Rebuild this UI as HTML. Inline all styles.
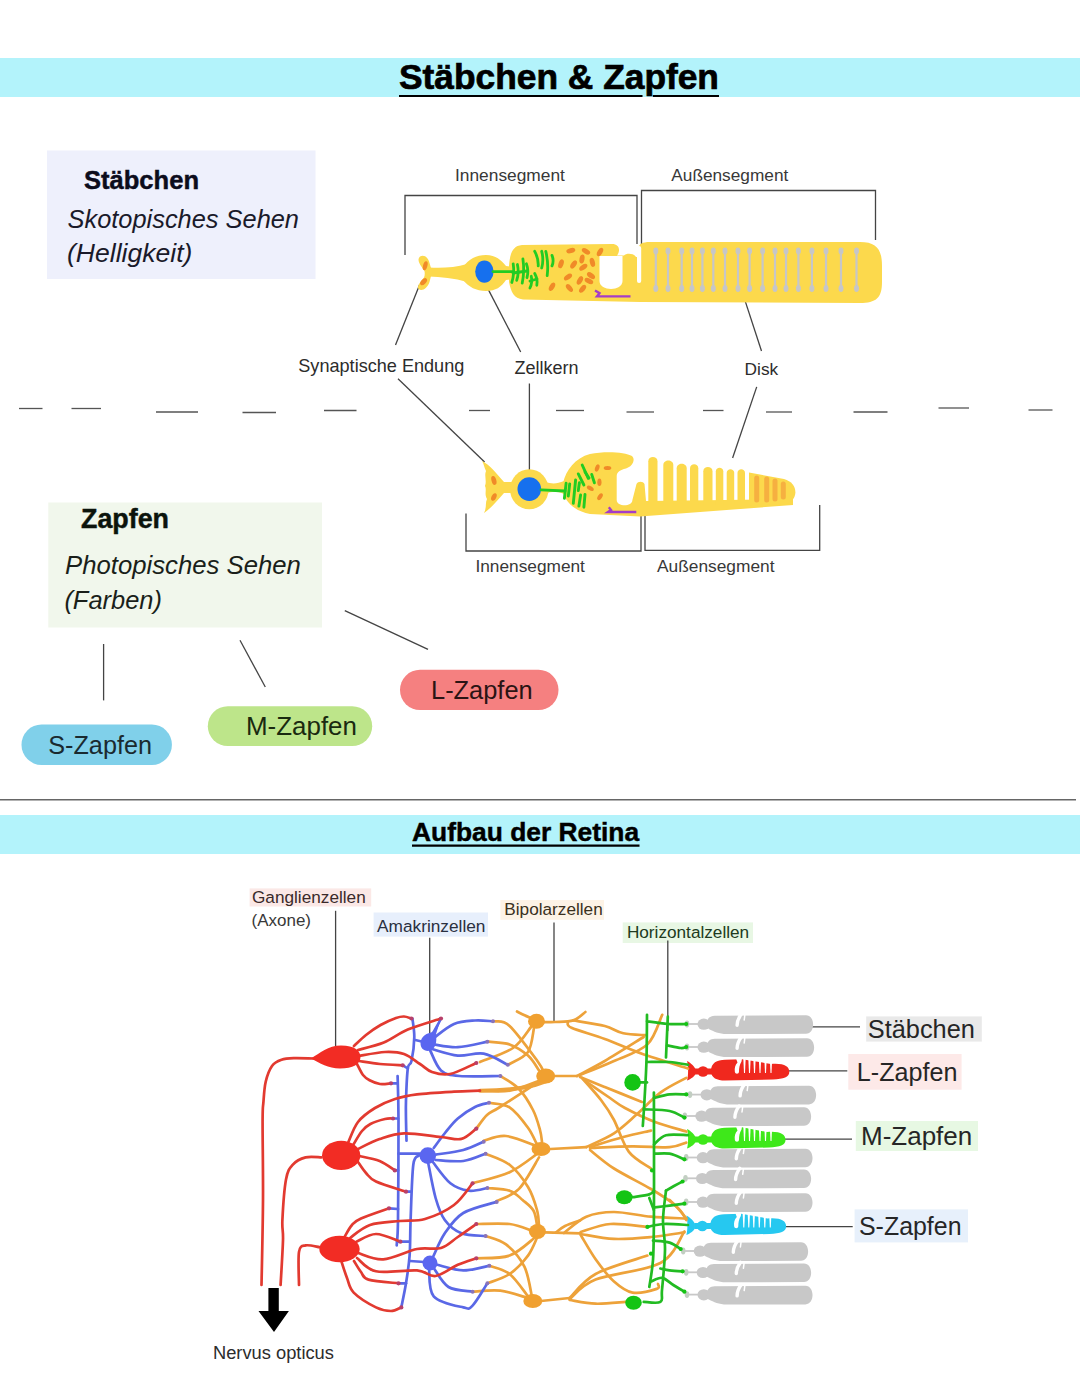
<!DOCTYPE html><html><head><meta charset="utf-8"><style>html,body{margin:0;padding:0;background:#fff;width:1080px;height:1394px;overflow:hidden}svg{position:absolute;left:0;top:0;display:block}text{font-family:"Liberation Sans",sans-serif}</style></head><body>
<svg width="1080" height="1394" viewBox="0 0 1080 1394">
<rect x="0" y="58" width="1080" height="39" rx="0" fill="#b3f3fb"/>
<rect x="47" y="150.5" width="268.5" height="128.5" rx="0" fill="#eef0fc"/>
<rect x="48.3" y="502.5" width="273.7" height="125" rx="0" fill="#f1f7ec"/>
<rect x="21.5" y="724.6" width="150.4" height="40.3" rx="20" fill="#80d0ea"/>
<rect x="207.8" y="706.3" width="164.4" height="39.7" rx="20" fill="#bde58a"/>
<rect x="400" y="669.8" width="158.5" height="40.2" rx="20" fill="#f58080"/>
<rect x="0" y="815" width="1080" height="39" rx="0" fill="#b3f3fb"/>
<rect x="249.6" y="888.4" width="121.6" height="18.1" rx="0" fill="#fbe8e6"/>
<rect x="373.6" y="912.5" width="114.4" height="24.1" rx="0" fill="#e7effc"/>
<rect x="500.4" y="900" width="103.6" height="19.8" rx="0" fill="#fdf3e6"/>
<rect x="622.7" y="922.4" width="130.3" height="20.6" rx="0" fill="#e8f7e4"/>
<rect x="866.2" y="1016.4" width="115.6" height="25.2" rx="0" fill="#e9e9e9"/>
<rect x="848.3" y="1054" width="113.3" height="35.7" rx="0" fill="#fde9e8"/>
<rect x="855.8" y="1121" width="122.2" height="30" rx="0" fill="#e7f8e3"/>
<rect x="854.6" y="1209.4" width="113.4" height="33" rx="0" fill="#e7f0fb"/>
<g fill="none" stroke="#444" stroke-width="1.3">
<path d="M405,255 V195.5 H637 V244"/>
<path d="M641.5,250 V190.5 H875.5 V240"/>
<path d="M395.5,345 L419.6,284.8"/>
<path d="M398,378.7 L484.6,462"/>
<path d="M520.7,352 L484.6,282.4"/>
<path d="M529.4,383.5 V480"/>
<path d="M761.5,351 L743,294.4"/>
<path d="M756.7,386.9 L732.6,458"/>
<path d="M466,513.6 V551 H641 V507"/>
<path d="M645,505 V550.3 H819.7 V505"/>
<path d="M103.6,644 V700.4"/>
<path d="M240,640.3 L265.3,687"/>
<path d="M344.8,610.7 L428,649.4"/>
<path d="M335.6,910.8 V1048"/>
<path d="M429.7,937.8 V1040"/>
<path d="M554,922.4 V1022"/>
<path d="M667.8,940.6 V1031"/>
<path d="M811,1026.8 H860"/>
<path d="M786,1070.8 H847.3"/>
<path d="M784.4,1139.2 H852"/>
<path d="M785.3,1226.7 H852.7"/>
</g>
<g stroke="#555" stroke-width="1.3">
<path d="M19,408.5 H42.5"/>
<path d="M71.5,408.5 H101"/>
<path d="M156,412 H198"/>
<path d="M242.5,412.5 H276"/>
<path d="M324,410.5 H356.5"/>
<path d="M469,410.5 H490"/>
<path d="M556,410.5 H584"/>
<path d="M626.5,412 H654"/>
<path d="M703,410.5 H723.5"/>
<path d="M766,412 H792"/>
<path d="M853.5,412 H887.5"/>
<path d="M938.5,408 H969"/>
<path d="M1028.5,410 H1052.5"/>
<path d="M0,799.7 H1076" stroke="#666" stroke-width="1.6"/>
</g>
<path d="M399,96 H642.5 M652.8,96 H719" stroke="#000" stroke-width="2.2"/>
<path d="M412,845.6 H639.5" stroke="#000" stroke-width="2.4"/>
<g fill="#fcd94c">
<path d="M420,256.5 C424.5,254 428.5,258 429.5,263 L431,268 L431,276 L429.5,282 C427.5,288 422,292 418.5,289 C416.5,286 421,281 424,277.5 C425,275.5 425,271.5 424,270 C421,266 416,260 420,256.5 Z"/>
<path d="M429,267.5 C440,268 455,268 467,264 L467,282 C455,278 440,277 429,276.5 Z"/>
<path d="M463,267 C469,259 476,255 486,255 C496,255 501,260 506,266 L513,267 L513,279 L506,280 C501,287 496,291 486,291 C476,291 469,287 463,280 Z"/>
<path d="M509,266 C510,254 512,246 522,245 L612,244 C619,244 621,250 617,255.5 L624,255.5 C626,253 634,253 636,257 L638,257 L638.5,248 C639,244 642,242 650,242 L860,242 C877,242 882,250 882,266 L882,282 C882,298 876,303 860,303 L640,302 L523,299.5 C514,298.5 511,292 509,282 Z"/>
</g>
<path d="M599.5,256 L599.5,281 C599.5,291.5 622.5,291.5 622.5,281 L622.5,256 Z" fill="#fff"/>
<rect x="637" y="246" width="4.2" height="37" rx="2" fill="#fff"/>
<g stroke="#c6c6c8" stroke-width="2.2" fill="#c6c6c8">
<path d="M655.8,250.5 V289"/><ellipse cx="655.8" cy="251" rx="2.5" ry="3.4" stroke="none"/><ellipse cx="655.8" cy="288.5" rx="2.5" ry="3.4" stroke="none"/>
<path d="M668,250.5 V289"/><ellipse cx="668" cy="251" rx="2.5" ry="3.4" stroke="none"/><ellipse cx="668" cy="288.5" rx="2.5" ry="3.4" stroke="none"/>
<path d="M681.7,250.5 V289"/><ellipse cx="681.7" cy="251" rx="2.5" ry="3.4" stroke="none"/><ellipse cx="681.7" cy="288.5" rx="2.5" ry="3.4" stroke="none"/>
<path d="M692,250.5 V289"/><ellipse cx="692" cy="251" rx="2.5" ry="3.4" stroke="none"/><ellipse cx="692" cy="288.5" rx="2.5" ry="3.4" stroke="none"/>
<path d="M702.4,250.5 V289"/><ellipse cx="702.4" cy="251" rx="2.5" ry="3.4" stroke="none"/><ellipse cx="702.4" cy="288.5" rx="2.5" ry="3.4" stroke="none"/>
<path d="M713.3,250.5 V289"/><ellipse cx="713.3" cy="251" rx="2.5" ry="3.4" stroke="none"/><ellipse cx="713.3" cy="288.5" rx="2.5" ry="3.4" stroke="none"/>
<path d="M725,250.5 V289"/><ellipse cx="725" cy="251" rx="2.5" ry="3.4" stroke="none"/><ellipse cx="725" cy="288.5" rx="2.5" ry="3.4" stroke="none"/>
<path d="M738,250.5 V289"/><ellipse cx="738" cy="251" rx="2.5" ry="3.4" stroke="none"/><ellipse cx="738" cy="288.5" rx="2.5" ry="3.4" stroke="none"/>
<path d="M749.6,250.5 V289"/><ellipse cx="749.6" cy="251" rx="2.5" ry="3.4" stroke="none"/><ellipse cx="749.6" cy="288.5" rx="2.5" ry="3.4" stroke="none"/>
<path d="M762.6,250.5 V289"/><ellipse cx="762.6" cy="251" rx="2.5" ry="3.4" stroke="none"/><ellipse cx="762.6" cy="288.5" rx="2.5" ry="3.4" stroke="none"/>
<path d="M775,250.5 V289"/><ellipse cx="775" cy="251" rx="2.5" ry="3.4" stroke="none"/><ellipse cx="775" cy="288.5" rx="2.5" ry="3.4" stroke="none"/>
<path d="M786,250.5 V289"/><ellipse cx="786" cy="251" rx="2.5" ry="3.4" stroke="none"/><ellipse cx="786" cy="288.5" rx="2.5" ry="3.4" stroke="none"/>
<path d="M798.4,250.5 V289"/><ellipse cx="798.4" cy="251" rx="2.5" ry="3.4" stroke="none"/><ellipse cx="798.4" cy="288.5" rx="2.5" ry="3.4" stroke="none"/>
<path d="M811.9,250.5 V289"/><ellipse cx="811.9" cy="251" rx="2.5" ry="3.4" stroke="none"/><ellipse cx="811.9" cy="288.5" rx="2.5" ry="3.4" stroke="none"/>
<path d="M826,250.5 V289"/><ellipse cx="826" cy="251" rx="2.5" ry="3.4" stroke="none"/><ellipse cx="826" cy="288.5" rx="2.5" ry="3.4" stroke="none"/>
<path d="M841,250.5 V289"/><ellipse cx="841" cy="251" rx="2.5" ry="3.4" stroke="none"/><ellipse cx="841" cy="288.5" rx="2.5" ry="3.4" stroke="none"/>
<path d="M856.5,250.5 V289"/><ellipse cx="856.5" cy="251" rx="2.5" ry="3.4" stroke="none"/><ellipse cx="856.5" cy="288.5" rx="2.5" ry="3.4" stroke="none"/>
</g>
<g fill="#f08a28">
<ellipse cx="425.2" cy="265.8" rx="2.2" ry="4.6" transform="rotate(15 425.2 265.8)"/>
<ellipse cx="423.6" cy="281.7" rx="2.4" ry="4.2" transform="rotate(45 423.6 281.7)"/>
<ellipse cx="570.8" cy="250.6" rx="4.6" ry="2.5" transform="rotate(-15 570.8 250.6)"/>
<ellipse cx="586" cy="251.3" rx="4.6" ry="2.5" transform="rotate(30 586 251.3)"/>
<ellipse cx="600" cy="252" rx="4.6" ry="2.5" transform="rotate(-60 600 252)"/>
<ellipse cx="561" cy="263.8" rx="4.6" ry="2.5" transform="rotate(-70 561 263.8)"/>
<ellipse cx="573.6" cy="264.5" rx="4.6" ry="2.5" transform="rotate(-55 573.6 264.5)"/>
<ellipse cx="582" cy="259" rx="4.6" ry="2.5" transform="rotate(-80 582 259)"/>
<ellipse cx="592.4" cy="262.4" rx="4.6" ry="2.5" transform="rotate(75 592.4 262.4)"/>
<ellipse cx="583.3" cy="267.25" rx="4.6" ry="2.5" transform="rotate(-35 583.3 267.25)"/>
<ellipse cx="568" cy="277" rx="4.6" ry="2.5" transform="rotate(-35 568 277)"/>
<ellipse cx="579.9" cy="280.4" rx="4.6" ry="2.5" transform="rotate(-60 579.9 280.4)"/>
<ellipse cx="591" cy="275.6" rx="4.6" ry="2.5" transform="rotate(35 591 275.6)"/>
<ellipse cx="588.9" cy="281" rx="4.6" ry="2.5" transform="rotate(25 588.9 281)"/>
<ellipse cx="552" cy="286.7" rx="4.6" ry="2.5" transform="rotate(-60 552 286.7)"/>
<ellipse cx="569.4" cy="288" rx="4.6" ry="2.5" transform="rotate(50 569.4 288)"/>
<ellipse cx="582.6" cy="288.8" rx="4.6" ry="2.5" transform="rotate(-50 582.6 288.8)"/>
</g>
<ellipse cx="484.4" cy="271.6" rx="9.2" ry="11.2" fill="#1670ee"/>
<g stroke="#22cc22" stroke-width="2.8" stroke-linecap="round" fill="none">
<path d="M493,271.6 H513"/>
<path d="M513.2,263.8 Q514.7,273.15 511.8,282.5"/>
<path d="M517.4,264.5 Q519.25,272.45 516.7,280.4"/>
<path d="M522.9,258.9 Q524.75,271.04999999999995 522.2,283.2"/>
<path d="M526.4,263.8 Q528.9000000000001,270.75 527,277.7"/>
<path d="M531.25,276.3 Q532.7750000000001,282.15 529.9,288"/>
<path d="M534.7,273.5 Q537.95,279.4 536.8,285.3"/>
<path d="M534.7,251.3 Q538.6500000000001,258.6 538.2,265.9"/>
<path d="M541.7,251.3 Q543.9000000000001,259.65 541.7,268"/>
<path d="M545.8,251.3 Q548.7,263.45000000000005 547.2,275.6"/>
<path d="M552,255.4 Q554.2,260.65 552,265.9"/>
<path d="M513,273 L527,271"/><path d="M530,281 L537,279"/>
</g>
<path d="M595,290.5 L599.5,293.2 L597,296.4 H630.5" stroke="#a43cc8" stroke-width="2.4" fill="none"/>
<g fill="#fcd94c">
<path d="M482,461 C490,465 497,474 504,482 L512,482 L512,493 L504,493 C497,501 490,509 484,513 C487,507 485,503 487,499 C484,494 487,490 485,486 C487,480 484,476 486,471 C484,467 484,464 482,461 Z"/>
<ellipse cx="529.3" cy="489.3" rx="19.3" ry="20"/>
<path d="M545,482 C552,484 557,484 564,481 L564,494 C557,491 552,491 545,494 Z"/>
<path d="M563,483 C566,470 575,458 590,454 C605,451 625,452 632,456 C636,460 632,467 626,468.5 C620,470 617,472 616.7,476 L616.7,500 C616.7,507 632.4,507 632.4,500 L636.5,484 C638,481 643,481 644.5,484 L646,501 L793,499 L793,505 L640,516.6 L590,514 C575,511 566,503 563,492 Z"/>
<path d="M648.3,505 L648.3,461.3 C648.3,455.7 657.5,455.7 657.5,461.3 L657.5,505 Z"/>
<path d="M663.3,505 L663.3,465.0 C663.3,459 673.3,459 673.3,465.0 L673.3,505 Z"/>
<path d="M676.7,505 L676.7,468.3 C676.7,462.3 686.7,462.3 686.7,468.3 L686.7,505 Z"/>
<path d="M690,505 L690,468.15 C690,463 698.3,463 698.3,468.15 L698.3,505 Z"/>
<path d="M703.3,505 L703.3,471.3 C703.3,465.7 712.5,465.7 712.5,471.3 L712.5,505 Z"/>
<path d="M715.8,505 L715.8,471.25 C715.8,466.5 723.3,466.5 723.3,471.25 L723.3,505 Z"/>
<path d="M726.7,505 L726.7,472.75 C726.7,468 734.2,468 734.2,472.75 L734.2,505 Z"/>
<path d="M737.5,505 L737.5,472.75 C737.5,468 745,468 745,472.75 L745,505 Z"/>
<path d="M749,472.5 L784,479 C799,483 799,501 785,504 L749,506 Z"/>
</g>
<g stroke="#f6b040" stroke-width="5" stroke-linecap="round">
<path d="M756.7,478 V500"/>
<path d="M766.7,479 V500"/>
<path d="M775,481 V499"/>
<path d="M783.3,484 V497"/>
</g>
<g fill="#f08a28">
<ellipse cx="493.9" cy="480.4" rx="2.4" ry="4.6" transform="rotate(-15 493.9 480.4)"/>
<ellipse cx="493.9" cy="497" rx="2.4" ry="4" transform="rotate(25 493.9 497)"/>
<ellipse cx="597.2" cy="468" rx="3.8" ry="2.1" transform="rotate(-70 597.2 468)"/>
<ellipse cx="607.5" cy="468" rx="3.8" ry="2.1" transform="rotate(0 607.5 468)"/>
<ellipse cx="599.4" cy="482.2" rx="3.8" ry="2.1" transform="rotate(90 599.4 482.2)"/>
<ellipse cx="590.3" cy="488.3" rx="3.8" ry="2.1" transform="rotate(30 590.3 488.3)"/>
<ellipse cx="600" cy="496.7" rx="3.8" ry="2.1" transform="rotate(-55 600 496.7)"/>
</g>
<circle cx="529.3" cy="489.1" r="11.8" fill="#1670ee"/>
<g stroke="#22cc22" stroke-width="2.9" stroke-linecap="round" fill="none">
<path d="M541,489.9 L565,491"/>
<path d="M566.1,483.3 L564.4,498.3"/>
<path d="M569.7,483.9 L568.3,496.1"/>
<path d="M575.6,480 L573.3,503.3"/>
<path d="M579.4,482.8 L578.3,490.6"/>
<path d="M578.3,473.9 L583.9,485"/>
<path d="M582.2,465 L588.3,478.3"/>
<path d="M591.7,474.4 L594.4,482.8"/>
<path d="M580.6,495 L578.9,506.1"/>
<path d="M585,494.4 L583.9,507.2"/>
<path d="M585,472 L589,478"/>
</g>
<path d="M608.8,507.2 L611,510 L608,512 H636.3" stroke="#a43cc8" stroke-width="2.4" fill="none"/>
<g transform="translate(684.8,1025)"><path d="M3,-1.9 H15 V-0.1 H3 Z" fill="#c8c8c8"/><ellipse cx="2.2" cy="-1" rx="2.3" ry="3.4" fill="#c2cec2"/><ellipse cx="19" cy="-0.8" rx="6.3" ry="5.6" fill="#c8c8c8"/><path d="M22,-3 C23,-7 25,-9 30,-9.3 L121.20000000000005,-9.8 C130.70000000000005,-9.8 130.70000000000005,8.8 121.20000000000005,8.8 L42,9 C34,9 29,6.5 24,4 C22,3 21.5,0 22,-3 Z" fill="#c8c8c8"/><path d="M56.5,-11 C54,-7.5 52.3,-4 52.3,0.3" stroke="#fff" stroke-width="3.4" stroke-linecap="round" fill="none"/><path d="M60,-9.5 L59.4,-5" stroke="#fff" stroke-width="1.5" stroke-linecap="round" fill="none"/></g>
<g transform="translate(684.8,1048)"><path d="M3,-1.9 H15 V-0.1 H3 Z" fill="#c8c8c8"/><ellipse cx="2.2" cy="-1" rx="2.3" ry="3.4" fill="#c2cec2"/><ellipse cx="19" cy="-0.8" rx="6.3" ry="5.6" fill="#c8c8c8"/><path d="M22,-3 C23,-7 25,-9 30,-9.3 L122.20000000000005,-9.8 C131.70000000000005,-9.8 131.70000000000005,8.8 122.20000000000005,8.8 L42,9 C34,9 29,6.5 24,4 C22,3 21.5,0 22,-3 Z" fill="#c8c8c8"/><path d="M56.5,-11 C54,-7.5 52.3,-4 52.3,0.3" stroke="#fff" stroke-width="3.4" stroke-linecap="round" fill="none"/><path d="M60,-9.5 L59.4,-5" stroke="#fff" stroke-width="1.5" stroke-linecap="round" fill="none"/></g>
<g transform="translate(687.8,1095.6)"><path d="M3,-1.9 H15 V-0.1 H3 Z" fill="#c8c8c8"/><ellipse cx="2.2" cy="-1" rx="2.3" ry="3.4" fill="#c2cec2"/><ellipse cx="19" cy="-0.8" rx="6.3" ry="5.6" fill="#c8c8c8"/><path d="M22,-3 C23,-7 25,-9 30,-9.3 L121.20000000000005,-9.8 C130.70000000000005,-9.8 130.70000000000005,8.8 121.20000000000005,8.8 L42,9 C34,9 29,6.5 24,4 C22,3 21.5,0 22,-3 Z" fill="#c8c8c8"/><path d="M56.5,-11 C54,-7.5 52.3,-4 52.3,0.3" stroke="#fff" stroke-width="3.4" stroke-linecap="round" fill="none"/><path d="M60,-9.5 L59.4,-5" stroke="#fff" stroke-width="1.5" stroke-linecap="round" fill="none"/></g>
<g transform="translate(682.6,1117)"><path d="M3,-1.9 H15 V-0.1 H3 Z" fill="#c8c8c8"/><ellipse cx="2.2" cy="-1" rx="2.3" ry="3.4" fill="#c2cec2"/><ellipse cx="19" cy="-0.8" rx="6.3" ry="5.6" fill="#c8c8c8"/><path d="M22,-3 C23,-7 25,-9 30,-9.3 L121.39999999999998,-9.8 C130.89999999999998,-9.8 130.89999999999998,8.8 121.39999999999998,8.8 L42,9 C34,9 29,6.5 24,4 C22,3 21.5,0 22,-3 Z" fill="#c8c8c8"/><path d="M56.5,-11 C54,-7.5 52.3,-4 52.3,0.3" stroke="#fff" stroke-width="3.4" stroke-linecap="round" fill="none"/><path d="M60,-9.5 L59.4,-5" stroke="#fff" stroke-width="1.5" stroke-linecap="round" fill="none"/></g>
<g transform="translate(684,1158.5)"><path d="M3,-1.9 H15 V-0.1 H3 Z" fill="#c8c8c8"/><ellipse cx="2.2" cy="-1" rx="2.3" ry="3.4" fill="#c2cec2"/><ellipse cx="19" cy="-0.8" rx="6.3" ry="5.6" fill="#c8c8c8"/><path d="M22,-3 C23,-7 25,-9 30,-9.3 L121.39999999999998,-9.8 C130.89999999999998,-9.8 130.89999999999998,8.8 121.39999999999998,8.8 L42,9 C34,9 29,6.5 24,4 C22,3 21.5,0 22,-3 Z" fill="#c8c8c8"/><path d="M56.5,-11 C54,-7.5 52.3,-4 52.3,0.3" stroke="#fff" stroke-width="3.4" stroke-linecap="round" fill="none"/><path d="M60,-9.5 L59.4,-5" stroke="#fff" stroke-width="1.5" stroke-linecap="round" fill="none"/></g>
<g transform="translate(683.3,1179.3)"><path d="M3,-1.9 H15 V-0.1 H3 Z" fill="#c8c8c8"/><ellipse cx="2.2" cy="-1" rx="2.3" ry="3.4" fill="#c2cec2"/><ellipse cx="19" cy="-0.8" rx="6.3" ry="5.6" fill="#c8c8c8"/><path d="M22,-3 C23,-7 25,-9 30,-9.3 L120.70000000000005,-9.8 C130.20000000000005,-9.8 130.20000000000005,8.8 120.70000000000005,8.8 L42,9 C34,9 29,6.5 24,4 C22,3 21.5,0 22,-3 Z" fill="#c8c8c8"/><path d="M56.5,-11 C54,-7.5 52.3,-4 52.3,0.3" stroke="#fff" stroke-width="3.4" stroke-linecap="round" fill="none"/><path d="M60,-9.5 L59.4,-5" stroke="#fff" stroke-width="1.5" stroke-linecap="round" fill="none"/></g>
<g transform="translate(684,1203)"><path d="M3,-1.9 H15 V-0.1 H3 Z" fill="#c8c8c8"/><ellipse cx="2.2" cy="-1" rx="2.3" ry="3.4" fill="#c2cec2"/><ellipse cx="19" cy="-0.8" rx="6.3" ry="5.6" fill="#c8c8c8"/><path d="M22,-3 C23,-7 25,-9 30,-9.3 L121.39999999999998,-9.8 C130.89999999999998,-9.8 130.89999999999998,8.8 121.39999999999998,8.8 L42,9 C34,9 29,6.5 24,4 C22,3 21.5,0 22,-3 Z" fill="#c8c8c8"/><path d="M56.5,-11 C54,-7.5 52.3,-4 52.3,0.3" stroke="#fff" stroke-width="3.4" stroke-linecap="round" fill="none"/><path d="M60,-9.5 L59.4,-5" stroke="#fff" stroke-width="1.5" stroke-linecap="round" fill="none"/></g>
<g transform="translate(681,1252)"><path d="M3,-1.9 H15 V-0.1 H3 Z" fill="#c8c8c8"/><ellipse cx="2.2" cy="-1" rx="2.3" ry="3.4" fill="#c2cec2"/><ellipse cx="19" cy="-0.8" rx="6.3" ry="5.6" fill="#c8c8c8"/><path d="M22,-3 C23,-7 25,-9 30,-9.3 L120,-9.8 C129.5,-9.8 129.5,8.8 120,8.8 L42,9 C34,9 29,6.5 24,4 C22,3 21.5,0 22,-3 Z" fill="#c8c8c8"/><path d="M56.5,-11 C54,-7.5 52.3,-4 52.3,0.3" stroke="#fff" stroke-width="3.4" stroke-linecap="round" fill="none"/><path d="M60,-9.5 L59.4,-5" stroke="#fff" stroke-width="1.5" stroke-linecap="round" fill="none"/></g>
<g transform="translate(684,1273.3)"><path d="M3,-1.9 H15 V-0.1 H3 Z" fill="#c8c8c8"/><ellipse cx="2.2" cy="-1" rx="2.3" ry="3.4" fill="#c2cec2"/><ellipse cx="19" cy="-0.8" rx="6.3" ry="5.6" fill="#c8c8c8"/><path d="M22,-3 C23,-7 25,-9 30,-9.3 L120,-9.8 C129.5,-9.8 129.5,8.8 120,8.8 L42,9 C34,9 29,6.5 24,4 C22,3 21.5,0 22,-3 Z" fill="#c8c8c8"/><path d="M56.5,-11 C54,-7.5 52.3,-4 52.3,0.3" stroke="#fff" stroke-width="3.4" stroke-linecap="round" fill="none"/><path d="M60,-9.5 L59.4,-5" stroke="#fff" stroke-width="1.5" stroke-linecap="round" fill="none"/></g>
<g transform="translate(684.8,1295.6)"><path d="M3,-1.9 H15 V-0.1 H3 Z" fill="#c8c8c8"/><ellipse cx="2.2" cy="-1" rx="2.3" ry="3.4" fill="#c2cec2"/><ellipse cx="19" cy="-0.8" rx="6.3" ry="5.6" fill="#c8c8c8"/><path d="M22,-3 C23,-7 25,-9 30,-9.3 L120.60000000000002,-9.8 C130.10000000000002,-9.8 130.10000000000002,8.8 120.60000000000002,8.8 L42,9 C34,9 29,6.5 24,4 C22,3 21.5,0 22,-3 Z" fill="#c8c8c8"/><path d="M56.5,-11 C54,-7.5 52.3,-4 52.3,0.3" stroke="#fff" stroke-width="3.4" stroke-linecap="round" fill="none"/><path d="M60,-9.5 L59.4,-5" stroke="#fff" stroke-width="1.5" stroke-linecap="round" fill="none"/></g>
<g transform="translate(687,1071)"><g fill="#f0281e"><path d="M0,-10 C4,-8 8,-4 8.6,-1.5 L8.6,2.5 C8,5 4,8 0,9.6 C1.5,5 1.5,-5 0,-10 Z"/><ellipse cx="16" cy="0.5" rx="5.5" ry="5.2"/><path d="M8,-2.5 L26,-2.5 L26,3.5 L8,3.5 Z"/><path d="M24,0 C24,-8 30,-11.2 38,-11.2 L55,-11.8 L83.79999999999995,-7 C96.79999999999995,-8 102.29999999999995,-5 102.29999999999995,1 C102.29999999999995,6 96.79999999999995,8 85.79999999999995,8.5 L38,9.5 C30,9.5 24,7 24,0 Z"/></g><g fill="#fff"><path d="M49,-12.5 L55,-12.5 L54.5,-9.5 C52.5,-6 52,-3 52,0.5 C52,3.5 48,3.5 47.8,0.5 C47.5,-3 48,-6 50.5,-8.5 Z"/><path d="M56.3,-13 L58.7,-13 L58.0,2 L57.0,2 Z"/><path d="M61.3,-13 L63.7,-13 L63.0,2 L62.0,2 Z"/><path d="M66.3,-13 L68.7,-13 L68.0,2 L67.0,2 Z"/><path d="M71.8,-13 L74.2,-13 L73.5,2 L72.5,2 Z"/><path d="M77.3,-13 L79.7,-13 L79.0,2 L78.0,2 Z"/><path d="M82.8,-13 L85.2,-13 L84.5,2 L83.5,2 Z"/></g></g>
<g transform="translate(687,1139)"><g fill="#3ee81a"><path d="M0,-10 C4,-8 8,-4 8.6,-1.5 L8.6,2.5 C8,5 4,8 0,9.6 C1.5,5 1.5,-5 0,-10 Z"/><ellipse cx="16" cy="0.5" rx="5.5" ry="5.2"/><path d="M8,-2.5 L26,-2.5 L26,3.5 L8,3.5 Z"/><path d="M24,0 C24,-8 30,-11.2 38,-11.2 L55,-11.8 L80,-7 C93,-8 98.5,-5 98.5,1 C98.5,6 93,8 82,8.5 L38,9.5 C30,9.5 24,7 24,0 Z"/></g><g fill="#fff"><path d="M49,-12.5 L55,-12.5 L54.5,-9.5 C52.5,-6 52,-3 52,0.5 C52,3.5 48,3.5 47.8,0.5 C47.5,-3 48,-6 50.5,-8.5 Z"/><path d="M56.3,-13 L58.7,-13 L58.0,2 L57.0,2 Z"/><path d="M61.3,-13 L63.7,-13 L63.0,2 L62.0,2 Z"/><path d="M66.3,-13 L68.7,-13 L68.0,2 L67.0,2 Z"/><path d="M71.8,-13 L74.2,-13 L73.5,2 L72.5,2 Z"/><path d="M77.3,-13 L79.7,-13 L79.0,2 L78.0,2 Z"/><path d="M82.8,-13 L85.2,-13 L84.5,2 L83.5,2 Z"/></g></g>
<g transform="translate(686.3,1225.5)"><g fill="#26c8f0"><path d="M0,-10 C4,-8 8,-4 8.6,-1.5 L8.6,2.5 C8,5 4,8 0,9.6 C1.5,5 1.5,-5 0,-10 Z"/><ellipse cx="16" cy="0.5" rx="5.5" ry="5.2"/><path d="M8,-2.5 L26,-2.5 L26,3.5 L8,3.5 Z"/><path d="M24,0 C24,-8 30,-11.2 38,-11.2 L55,-11.8 L81.30000000000007,-7 C94.30000000000007,-8 99.80000000000007,-5 99.80000000000007,1 C99.80000000000007,6 94.30000000000007,8 83.30000000000007,8.5 L38,9.5 C30,9.5 24,7 24,0 Z"/></g><g fill="#fff"><path d="M49,-12.5 L55,-12.5 L54.5,-9.5 C52.5,-6 52,-3 52,0.5 C52,3.5 48,3.5 47.8,0.5 C47.5,-3 48,-6 50.5,-8.5 Z"/><path d="M56.3,-13 L58.7,-13 L58.0,2 L57.0,2 Z"/><path d="M61.3,-13 L63.7,-13 L63.0,2 L62.0,2 Z"/><path d="M66.3,-13 L68.7,-13 L68.0,2 L67.0,2 Z"/><path d="M71.8,-13 L74.2,-13 L73.5,2 L72.5,2 Z"/><path d="M77.3,-13 L79.7,-13 L79.0,2 L78.0,2 Z"/><path d="M82.8,-13 L85.2,-13 L84.5,2 L83.5,2 Z"/></g></g>
<g fill="none" stroke="#eda23a" stroke-width="2.7" stroke-linecap="round">
<path d="M547,1081 C535,1086 520,1090 480,1090.7" stroke-width="4"/>
<path d="M531,1018 C529.8,1017.5 526.3,1016.1 524,1015 C521.7,1013.9 518.2,1012.1 517,1011.5"/>
<path d="M543,1022.2 C545.0,1022.2 550.0,1022.3 555,1022 C560.0,1021.7 568.2,1022.1 573.3,1020.4 C578.4,1018.7 583.4,1013.4 585.4,1012"/>
<path d="M531,1027 C528.0,1030.5 521.5,1042.2 513,1048 C504.5,1053.8 485.5,1059.7 480,1062"/>
<path d="M534,1028 C533.0,1032.0 532.1,1046.0 528,1052 C523.9,1058.0 512.7,1062.0 509.6,1064"/>
<path d="M567.8,1022 C568.4,1023.0 565.3,1025.0 571.5,1027.8 C577.7,1030.6 593.1,1034.7 604.8,1039 C616.5,1043.3 628.0,1048.8 641.9,1053.7 C655.8,1058.6 680.3,1066.0 688,1068.5"/>
<path d="M573.3,1020.4 C578.5,1021.3 596.5,1023.9 604.8,1026 C613.1,1028.2 616.5,1031.8 623.3,1033.3 C630.1,1034.8 641.9,1034.9 645.6,1035.2"/>
<path d="M494.8,1021.3 C497.3,1022.1 502.5,1019.4 509.6,1026 C516.7,1032.6 531.5,1053.0 537.4,1061 C543.3,1069.0 543.6,1071.8 544.8,1074"/>
<path d="M489,1041.7 C492.4,1042.2 503.1,1042.1 509.6,1044.4 C516.1,1046.7 523.1,1051.3 528,1055.6 C532.9,1059.9 537.2,1067.9 539,1070.4"/>
<path d="M554,1076 L577,1076"/>
<path d="M577,1076 C581.6,1073.5 593.7,1067.5 604.8,1061 C615.9,1054.5 637.2,1041.0 643.7,1037"/>
<path d="M580,1075 C585.7,1072.7 602.8,1066.1 614,1061 C625.2,1055.9 639.4,1052.1 647.4,1044.4 C655.4,1036.7 659.7,1019.7 662.2,1014.8"/>
<path d="M580,1077 C584.1,1078.7 594.5,1082.8 604.8,1087 C615.1,1091.2 635.7,1099.4 641.9,1101.9"/>
<path d="M582,1078 C585.2,1081.7 595.7,1093.0 601,1100 C606.3,1107.0 609.4,1111.3 614,1120 C618.6,1128.7 622.7,1143.8 628.9,1151.9 C635.1,1160.0 647.3,1165.7 651,1168.5"/>
<path d="M584,1080 C588.3,1083.0 603.2,1093.3 610,1098 C616.8,1102.7 617.5,1104.0 625,1108 C632.5,1112.0 644.8,1118.1 655,1122 C665.2,1125.9 681.1,1129.9 686.3,1131.5"/>
<path d="M541,1080 C535.8,1081.8 519.8,1088.9 509.6,1090.7 C499.4,1092.5 484.9,1090.7 480,1090.7"/>
<path d="M500.4,1076 C503.5,1078.2 513.6,1083.3 519,1089 C524.4,1094.7 529.5,1103.2 533,1110 C536.5,1116.8 538.5,1124.7 540,1130 C541.5,1135.3 541.7,1140.0 542,1142"/>
<path d="M476.3,1128.7 C478.1,1126.4 483.1,1118.6 487,1115 C490.9,1111.4 491.3,1112.6 500,1107 C508.7,1101.4 532.5,1085.8 539,1081.5"/>
<path d="M489,1102.8 C492.4,1103.6 503.1,1103.2 509.6,1107.4 C516.1,1111.6 523.4,1121.5 528,1127.8 C532.6,1134.1 535.8,1142.5 537.4,1145.4"/>
<path d="M550.4,1149 L586.3,1147.2"/>
<path d="M586.3,1147 C590.9,1144.7 605.7,1138.7 614,1133.3 C622.3,1127.9 628.6,1121.6 636.3,1114.8 C644.0,1108.0 652.1,1098.8 660.4,1092.6 C668.7,1086.4 682.0,1080.3 686.3,1077.8"/>
<path d="M590,1147 C595.5,1145.3 613.1,1139.7 623.3,1137 C633.5,1134.3 646.4,1131.7 651,1130.6"/>
<path d="M590,1148 C597.1,1147.7 619.3,1146.4 632.6,1146.3 C645.9,1146.2 660.7,1147.8 669.6,1147.2 C678.5,1146.6 683.5,1143.4 686.3,1142.6"/>
<path d="M590,1150 C594.0,1153.1 603.8,1162.0 614,1168.5 C624.2,1175.0 641.1,1183.1 651,1189 C660.9,1194.9 667.4,1198.8 673.3,1203.7 C679.2,1208.6 684.1,1216.0 686.3,1218.5"/>
<path d="M483.7,1140.7 C487.4,1139.9 497.1,1135.1 506,1136 C515.0,1136.9 532.2,1144.6 537.4,1146.3"/>
<path d="M485.6,1153.7 C489.6,1155.5 502.5,1159.2 509.6,1164.8 C516.7,1170.3 523.4,1179.5 528,1187 C532.6,1194.5 535.2,1203.5 537,1210 C538.8,1216.5 538.7,1223.3 539,1226"/>
<path d="M472.6,1183.3 C478.8,1181.5 498.8,1177.1 509.6,1172.2 C520.4,1167.3 532.8,1156.8 537.4,1153.7"/>
<path d="M487.4,1188 C491.1,1188.5 503.7,1188.7 509.6,1190.7 C515.5,1192.7 518.6,1196.6 522.6,1200 C526.6,1203.4 531.2,1206.4 533.7,1211 C536.2,1215.6 536.8,1225.0 537.4,1227.8"/>
<path d="M496.7,1201 C500.4,1199.0 511.9,1196.2 519,1188.9 C526.0,1181.6 535.7,1162.7 539,1157.4"/>
<path d="M476.3,1224 C481.9,1224.0 500.3,1222.9 509.6,1224 C518.9,1225.1 528.2,1229.5 531.9,1230.6"/>
<path d="M485.6,1236 C489.0,1237.4 499.5,1239.3 506,1244.4 C512.5,1249.5 520.1,1258.1 524.4,1266.7 C528.7,1275.3 530.6,1291.4 531.9,1296.3"/>
<path d="M476.3,1258.3 C481.9,1257.8 499.7,1259.1 509.6,1255.6 C519.5,1252.0 531.3,1240.1 535.6,1237"/>
<path d="M489.3,1265.7 C492.7,1267.1 503.2,1268.9 509.6,1274 C516.1,1279.1 524.9,1292.6 528,1296.3"/>
<path d="M487.4,1283.3 C491.1,1281.8 502.8,1278.6 509.6,1274 C516.4,1269.4 523.4,1261.8 528,1255.6 C532.6,1249.4 535.8,1240.1 537.4,1237"/>
<path d="M472.6,1291.7 C477.2,1291.5 491.2,1289.7 500.4,1290.7 C509.6,1291.8 523.4,1296.8 528,1298"/>
<path d="M544.8,1232.4 L580.7,1233.3"/>
<path d="M564,1233 C567.7,1230.3 578.0,1220.2 586.3,1216.7 C594.6,1213.2 603.2,1212.0 614,1212 C624.8,1212.0 639.0,1215.6 651,1216.7 C663.0,1217.8 680.4,1218.2 686.3,1218.5"/>
<path d="M580.7,1232 C585.7,1230.7 599.3,1224.8 610.4,1224 C621.5,1223.2 641.2,1226.5 647.4,1227"/>
<path d="M580.7,1234 C586.2,1234.8 602.3,1238.4 614,1238.9 C625.7,1239.4 639.3,1238.1 651,1237 C662.7,1235.9 678.8,1233.2 684.4,1232.4"/>
<path d="M580.7,1235 C583.2,1239.0 590.1,1251.5 595.6,1259.3 C601.1,1267.0 607.8,1276.0 614,1281.5 C620.2,1287.0 625.5,1291.4 632.6,1292.6 C639.7,1293.8 652.5,1290.3 656.7,1288.9 C660.9,1287.5 657.8,1284.8 658,1284"/>
<path d="M669.6,1200 C671.5,1201.8 677.9,1207.7 680.7,1211 C683.5,1214.3 685.4,1218.5 686.3,1220"/>
<path d="M541,1301 L569.6,1298"/>
<path d="M569.6,1298 C573.9,1294.0 582.6,1281.1 595.6,1274 C608.6,1266.9 638.8,1258.7 647.4,1255.6"/>
<path d="M569.6,1299 C573.9,1295.8 580.5,1285.6 595.6,1279.6 C610.7,1273.6 645.6,1271.0 660.4,1263 C675.2,1255.0 680.4,1236.8 684.4,1231.5"/>
<path d="M569.6,1300 C573.9,1300.6 586.3,1303.4 595.6,1303.7 C604.9,1304.0 620.3,1302.2 625.2,1301.9"/>
<path d="M556,1232.4 C557.5,1231.3 561.0,1228.0 565,1226 C569.0,1224.0 577.5,1221.3 580,1220.4"/>
</g>
<g fill="#f0a030">
<ellipse cx="536.5" cy="1021.3" rx="8.5" ry="7.5"/>
<ellipse cx="545.7" cy="1076" rx="9.5" ry="7.5"/>
<ellipse cx="541" cy="1149" rx="9.5" ry="7"/>
<ellipse cx="537.4" cy="1231.5" rx="8.5" ry="7.5"/>
<ellipse cx="532.8" cy="1301" rx="9.5" ry="7"/>
</g>
<g fill="none" stroke="#22bb22" stroke-width="2.7" stroke-linecap="round">
<path d="M647,1014.8 C646.9,1022.3 646.9,1045.8 646.5,1060 C646.1,1074.2 645.1,1089.0 644.5,1100 C643.9,1111.0 643.1,1121.7 642.8,1126"/>
<path d="M667.8,1016.7 L666,1057.4"/>
<path d="M653.9,1092.6 C653.9,1102.2 654.0,1128.8 654,1150 C654.0,1171.2 654.1,1201.7 653.9,1220 C653.7,1238.3 653.8,1248.8 653,1260 C652.2,1271.2 649.9,1282.5 649.3,1287"/>
<path d="M666,1190.7 C665.5,1195.6 663.2,1210.1 663,1220 C662.8,1229.9 665.2,1238.3 665,1250 C664.8,1261.7 662.8,1281.3 662,1290 C661.2,1298.7 663.4,1299.9 660.4,1301.9 C657.4,1303.9 646.5,1301.9 643.7,1301.9"/>
<path d="M647,1021.3 C650.5,1021.8 661.2,1023.5 667.8,1024 C674.3,1024.5 683.2,1024.0 686.3,1024"/>
<path d="M667,1045.4 C669.3,1045.8 677.5,1047.7 680.7,1048 C683.9,1048.3 685.4,1047.2 686.3,1047"/>
<path d="M647,1062 C650.8,1062.0 662.8,1061.5 669.6,1062 C676.4,1062.5 684.9,1064.3 688,1064.8"/>
<path d="M640,1082.4 L647,1082.4"/>
<path d="M654,1098 C656.6,1097.4 664.2,1095.0 669.6,1094.4 C675.0,1093.8 683.5,1094.4 686.3,1094.4"/>
<path d="M643.7,1109.3 C648.0,1109.6 662.8,1109.6 669.6,1111 C676.4,1112.4 681.9,1116.5 684.4,1117.6"/>
<path d="M654,1144.4 C656.0,1142.9 660.3,1136.7 666,1135.2 C671.7,1133.7 684.3,1135.2 688,1135.2"/>
<path d="M655,1153.7 C657.4,1153.7 664.7,1152.8 669.6,1153.7 C674.5,1154.6 681.9,1158.4 684.4,1159.3"/>
<path d="M632.6,1197.2 C635.4,1196.7 645.8,1195.5 649.3,1194.4 C652.8,1193.3 653.1,1191.3 653.9,1190.7"/>
<path d="M649.3,1198 L653.9,1210"/>
<path d="M666,1190.7 C667.3,1189.9 671.2,1187.5 674,1186 C676.8,1184.5 681.2,1182.2 682.6,1181.5"/>
<path d="M654.8,1207.4 C657.3,1207.1 664.7,1206.2 669.6,1205.6 C674.5,1205.0 681.9,1204.0 684.4,1203.7"/>
<path d="M647.4,1226.9 C650.2,1226.4 657.2,1224.3 664,1224 C670.8,1223.7 684.0,1224.8 688,1225"/>
<path d="M653,1240.7 C655.8,1241.0 665.0,1241.2 669.6,1242.6 C674.2,1244.0 678.9,1247.9 680.7,1249"/>
<path d="M660.4,1268.5 C661.9,1268.8 665.9,1269.9 669.6,1270.4 C673.3,1270.9 680.4,1271.2 682.6,1271.3"/>
<path d="M651,1281.5 C652.9,1280.9 658.5,1277.2 662.2,1277.8 C665.9,1278.4 669.6,1282.7 673.3,1285 C677.0,1287.3 682.5,1290.6 684.4,1291.7"/>
</g>
<g fill="#14c414">
<ellipse cx="632.6" cy="1082.4" rx="8.3" ry="8.3"/>
<ellipse cx="624.3" cy="1197.2" rx="8.3" ry="7"/>
<ellipse cx="633.5" cy="1302.8" rx="8.3" ry="7"/>
<circle cx="686.3" cy="1024" r="2.1"/>
<circle cx="686.3" cy="1047" r="2.1"/>
<circle cx="686.3" cy="1094.4" r="2.1"/>
<circle cx="684.4" cy="1117.6" r="2.1"/>
<circle cx="684.4" cy="1159.3" r="2.1"/>
<circle cx="682.6" cy="1181.5" r="2.1"/>
<circle cx="684.4" cy="1203.7" r="2.1"/>
<circle cx="680.7" cy="1249" r="2.1"/>
<circle cx="682.6" cy="1271.3" r="2.1"/>
<circle cx="684.4" cy="1291.7" r="2.1"/>
<circle cx="652" cy="1170.4" r="2.1"/>
<circle cx="647.4" cy="1226.9" r="2.1"/>
<circle cx="651" cy="1253.7" r="2.1"/>
</g>
<g fill="none" stroke="#5a68e6" stroke-width="2.7" stroke-linecap="round">
<path d="M412.4,1018.5 C412.7,1021.6 414.4,1029.9 414.3,1037 C414.2,1044.1 412.6,1055.8 411.5,1061 C410.4,1066.2 408.7,1062.0 407.8,1068.5 C406.9,1075.0 406.3,1091.4 406,1100 C405.7,1108.6 405.9,1113.2 406,1120 C406.1,1126.8 406.4,1137.2 406.5,1140.7"/>
<path d="M397.6,1076 C397.8,1083.3 398.4,1096.0 398.5,1120 C398.6,1144.0 398.3,1199.1 398,1220 C397.7,1240.9 396.9,1241.2 396.7,1245.4"/>
<path d="M418.9,1155.6 C418.0,1157.1 414.7,1154.1 413.3,1164.8 C411.9,1175.5 411.2,1204.9 410.6,1220 C410.0,1235.1 410.4,1245.0 409.6,1255.6 C408.8,1266.1 407.4,1274.7 406,1283.3 C404.6,1291.9 402.1,1303.4 401.3,1307.4"/>
<path d="M414.3,1039.8 L422.6,1041.7"/>
<path d="M398.5,1153.7 L420,1153.7"/>
<path d="M410,1261 L424.4,1262"/>
<path d="M397.6,1083.3 L391,1083.3"/>
<path d="M398,1209 L389,1208.3"/>
<path d="M409.6,1241.7 L397,1241.7"/>
<path d="M406,1191.7 L411,1191.7"/>
<path d="M407.8,1068.5 L403,1065.3"/>
<path d="M398,1170.4 L394.8,1170.4"/>
<path d="M398,1118.5 L393,1118.5"/>
<path d="M406,1283.3 L398.5,1283.3"/>
<path d="M430,1038 C431.0,1036.3 434.2,1031.2 436,1028 C437.8,1024.8 440.2,1020.1 441,1018.5"/>
<path d="M433.7,1038 C437.1,1035.7 447.1,1026.9 454,1024 C460.9,1021.1 468.5,1021.0 475,1020.5 C481.5,1020.0 490.0,1021.2 493,1021.3"/>
<path d="M433.7,1044.4 C437.7,1044.9 448.9,1047.7 457.8,1047.2 C466.8,1046.8 482.5,1042.6 487.4,1041.7"/>
<path d="M431.9,1049 C436.2,1050.1 449.2,1054.8 457.8,1055.6 C466.4,1056.4 475.4,1052.2 483.7,1053.7 C492.0,1055.2 503.8,1063.0 507.8,1064.8"/>
<path d="M430,1050 C431.8,1053.4 436.1,1066.1 441,1070.4 C445.9,1074.7 449.7,1075.1 459.6,1076 C469.5,1076.9 493.6,1076.0 500.4,1076"/>
<path d="M433.7,1148 C435.6,1145.5 441.0,1137.9 445,1133 C449.0,1128.1 452.8,1122.8 457.8,1118.5 C462.8,1114.2 469.8,1109.6 475,1107 C480.2,1104.4 486.7,1103.5 489,1102.8"/>
<path d="M435.6,1154.6 C440.2,1153.8 455.3,1152.2 463.3,1150 C471.3,1147.8 480.3,1143.1 483.7,1141.7"/>
<path d="M435.6,1160 C440.2,1160.2 455.0,1162.0 463.3,1161 C471.6,1160.0 481.9,1154.9 485.6,1153.7"/>
<path d="M432.8,1162 C435.7,1165.5 444.4,1178.5 450.4,1183.3 C456.4,1188.1 462.7,1189.9 468.9,1190.7 C475.1,1191.5 484.3,1188.5 487.4,1188"/>
<path d="M428,1162 C429.3,1168.0 432.8,1188.3 435.6,1198 C438.4,1207.7 440.5,1214.1 444.8,1220 C449.1,1225.9 454.7,1230.6 461.5,1233.3 C468.3,1236.0 481.6,1235.5 485.6,1236"/>
<path d="M433,1257 C435.0,1253.0 439.8,1240.6 444.8,1233.3 C449.9,1226.0 454.7,1218.2 463.3,1213 C471.9,1207.8 491.1,1203.8 496.7,1201.9"/>
<path d="M437.4,1264.8 C441.7,1265.7 454.6,1270.2 463.3,1270.4 C472.0,1270.6 485.0,1266.5 489.3,1265.7"/>
<path d="M433.7,1268 C436.2,1271.2 442.0,1283.0 448.5,1287 C455.0,1291.0 468.6,1290.9 472.6,1291.7"/>
<path d="M429,1268 C429.8,1272.7 428.0,1289.7 433.7,1296.3 C439.4,1302.9 456.8,1305.9 463.3,1307.4 C469.8,1309.0 468.6,1309.6 472.6,1305.6 C476.6,1301.6 484.9,1287.0 487.4,1283.3"/>
</g>
<g fill="#5a66f0">
<path d="M420.5,1043 C421,1036 427,1033 433,1032 L441,1018.5 L436,1034 C437,1042 436,1050 428,1051 C423,1050.5 420.5,1048 420.5,1043 Z"/>
<ellipse cx="427.8" cy="1155.6" rx="8.3" ry="8.3"/>
<ellipse cx="430" cy="1263" rx="7.5" ry="7.5"/>
<circle cx="493" cy="1021.3" r="2" fill="#8a74b8"/>
<circle cx="487.4" cy="1041.7" r="2" fill="#8a74b8"/>
<circle cx="507.8" cy="1064.8" r="2" fill="#8a74b8"/>
<circle cx="500.4" cy="1076" r="2" fill="#8a74b8"/>
<circle cx="489" cy="1102.8" r="2" fill="#8a74b8"/>
<circle cx="483.7" cy="1141.7" r="2" fill="#8a74b8"/>
<circle cx="485.6" cy="1153.7" r="2" fill="#8a74b8"/>
<circle cx="487.4" cy="1188" r="2" fill="#8a74b8"/>
<circle cx="485.6" cy="1236" r="2" fill="#8a74b8"/>
<circle cx="496.7" cy="1201.9" r="2" fill="#8a74b8"/>
<circle cx="489.3" cy="1265.7" r="2" fill="#8a74b8"/>
<circle cx="472.6" cy="1291.7" r="2" fill="#8a74b8"/>
<circle cx="487.4" cy="1283.3" r="2" fill="#8a74b8"/>
</g>
<g fill="none" stroke="#e23a30" stroke-width="2.7" stroke-linecap="round">
<path d="M313.7,1058.5 C310.4,1058.5 299.4,1058.0 294,1058.2 C288.6,1058.4 285.2,1058.5 281.5,1059.8 C277.8,1061.1 274.6,1062.3 272,1066 C269.4,1069.7 267.1,1075.8 265.7,1081.8 C264.3,1087.8 263.9,1095.9 263.4,1102.3 C262.9,1108.7 262.7,1103.7 262.6,1120 C262.5,1136.3 263.2,1172.5 263,1200 C262.8,1227.5 261.8,1270.8 261.5,1285"/>
<path d="M321.3,1157.4 C318.7,1157.4 310.4,1156.2 305.6,1157.4 C300.8,1158.6 295.9,1161.1 292.6,1164.8 C289.3,1168.5 287.7,1170.4 286,1179.6 C284.3,1188.8 282.9,1209.9 282.4,1220 C281.9,1230.1 283.3,1229.2 283,1240 C282.7,1250.8 281.0,1277.5 280.6,1285"/>
<path d="M319.4,1247.2 C317.1,1246.9 309.0,1244.6 305.6,1245.4 C302.2,1246.2 300.1,1245.3 299,1251.9 C297.9,1258.5 299.0,1279.5 299,1285"/>
<path d="M354,1046 C356.0,1044.2 361.6,1038.5 366,1035 C370.4,1031.5 375.6,1027.8 380.6,1025 C385.6,1022.2 392.1,1019.4 396,1018 C399.9,1016.6 401.4,1016.4 404,1016.5 C406.6,1016.6 410.2,1018.2 411.5,1018.5"/>
<path d="M358,1050 C362.3,1048.8 375.5,1045.9 383.8,1042.5 C392.1,1039.1 398.3,1033.6 407.8,1029.6 C417.3,1025.6 435.5,1020.4 441,1018.5"/>
<path d="M359,1056 C363.3,1055.3 377.5,1052.3 385,1052 C392.5,1051.7 398.2,1052.0 404,1054 C409.8,1056.0 415.3,1061.0 420,1064 C424.7,1067.0 427.0,1070.3 432,1072 C437.0,1073.7 442.6,1075.5 450,1074 C457.4,1072.5 471.9,1064.8 476.3,1063"/>
<path d="M359,1061 C362.5,1061.5 372.7,1063.3 380,1064 C387.3,1064.7 398.9,1065.1 402.7,1065.3"/>
<path d="M357,1064 C358.0,1065.8 360.9,1072.3 363,1075 C365.1,1077.7 366.8,1078.8 369.6,1080.3 C372.4,1081.8 376.4,1083.5 380,1084 C383.6,1084.5 389.2,1083.4 391,1083.3"/>
<path d="M348,1143 C349.7,1139.5 353.5,1127.8 358,1122 C362.5,1116.2 368.8,1111.8 375,1108 C381.2,1104.2 388.0,1101.3 395,1099 C402.0,1096.7 407.2,1095.6 417,1094.4 C426.8,1093.2 443.5,1092.3 454,1091.7 C464.5,1091.1 475.7,1090.9 480,1090.7"/>
<path d="M353.7,1144 C355.1,1141.8 359.2,1134.3 362,1131 C364.8,1127.7 366.6,1126.0 370.4,1124 C374.2,1122.0 381.2,1119.9 385,1119 C388.8,1118.1 391.7,1118.6 393,1118.5"/>
<path d="M358,1149 C361.6,1147.3 371.9,1141.6 379.6,1139 C387.3,1136.4 393.8,1133.6 404,1133.3 C414.2,1133.0 431.4,1136.1 441,1137 C450.6,1137.9 455.6,1140.3 461.5,1138.9 C467.4,1137.5 473.8,1130.4 476.3,1128.7"/>
<path d="M359,1156 C362.4,1156.8 373.6,1158.6 379.6,1161 C385.6,1163.4 392.3,1168.8 394.8,1170.4"/>
<path d="M358,1162 C359.3,1163.8 363.0,1169.8 366,1173 C369.0,1176.2 369.3,1178.4 376,1181.5 C382.7,1184.6 401.0,1190.0 406,1191.7"/>
<path d="M344.4,1237 C345.7,1235.0 349.2,1228.1 352,1225 C354.8,1221.9 354.8,1221.3 361,1218.5 C367.2,1215.7 384.3,1210.0 389,1208.3"/>
<path d="M350,1238 C353.3,1235.8 361.7,1227.8 370,1225 C378.3,1222.2 390.8,1222.0 400,1221 C409.2,1220.0 416.0,1221.7 425,1219 C434.0,1216.3 446.1,1211.0 454,1205 C461.9,1199.0 469.5,1186.9 472.6,1183.3"/>
<path d="M356,1242 C359.3,1240.7 368.6,1234.0 376,1234 C383.4,1234.0 396.3,1240.4 400.4,1241.7"/>
<path d="M358,1253 C362.2,1254.0 373.5,1260.0 383.3,1259.3 C393.1,1258.6 407.4,1250.9 417,1249 C426.6,1247.1 434.2,1250.0 441,1248 C447.8,1246.0 451.9,1241.0 457.8,1237 C463.7,1233.0 473.2,1226.2 476.3,1224"/>
<path d="M357,1258 C360.2,1260.2 366.0,1269.2 376,1271.3 C386.0,1273.4 407.1,1269.6 417,1270.4 C426.9,1271.2 428.8,1276.9 435.6,1276 C442.4,1275.1 451.0,1267.8 457.8,1264.8 C464.6,1261.8 473.2,1259.4 476.3,1258.3"/>
<path d="M354,1261 C355.2,1262.8 358.6,1268.9 361,1272 C363.4,1275.1 362.2,1277.7 368.5,1279.6 C374.8,1281.5 393.5,1282.7 398.5,1283.3"/>
<path d="M341,1260 C342.0,1263.0 344.9,1272.6 347,1278 C349.1,1283.4 348.9,1287.7 353.7,1292.6 C358.5,1297.5 369.8,1304.3 376,1307.4 C382.2,1310.5 386.8,1311.0 391,1311 C395.2,1311.0 399.6,1308.0 401.3,1307.4"/>
</g>
<g fill="#f22c24">
<path d="M311,1058.5 C320,1053 328,1045.5 341,1045.5 C355,1045.5 360.5,1051 360.5,1057 C360.5,1064 353,1068.5 340,1068.5 C328,1068.5 320,1063 311,1058.5 Z"/>
<ellipse cx="341.2" cy="1155.4" rx="19.2" ry="14.6"/>
<ellipse cx="339.5" cy="1249" rx="20.2" ry="13.2"/>
<circle cx="411.5" cy="1018.5" r="2.1" fill="#b8406a"/>
<circle cx="441" cy="1018.5" r="2.1" fill="#b8406a"/>
<circle cx="476.3" cy="1063" r="2.1" fill="#b8406a"/>
<circle cx="402.7" cy="1065.3" r="2.1" fill="#b8406a"/>
<circle cx="391" cy="1083.3" r="2.1" fill="#b8406a"/>
<circle cx="393" cy="1118.5" r="2.1" fill="#b8406a"/>
<circle cx="476.3" cy="1128.7" r="2.1" fill="#b8406a"/>
<circle cx="394.8" cy="1170.4" r="2.1" fill="#b8406a"/>
<circle cx="406" cy="1191.7" r="2.1" fill="#b8406a"/>
<circle cx="389" cy="1208.3" r="2.1" fill="#b8406a"/>
<circle cx="472.6" cy="1183.3" r="2.1" fill="#b8406a"/>
<circle cx="400.4" cy="1241.7" r="2.1" fill="#b8406a"/>
<circle cx="476.3" cy="1224" r="2.1" fill="#b8406a"/>
<circle cx="476.3" cy="1258.3" r="2.1" fill="#b8406a"/>
<circle cx="398.5" cy="1283.3" r="2.1" fill="#b8406a"/>
<circle cx="401.3" cy="1307.4" r="2.1" fill="#b8406a"/>
</g>
<path d="M268.4,1288 H278.8 V1311 H288.9 L274,1332 L258.5,1311 H268.4 Z" fill="#000"/>
<text x="399.0" y="89" font-size="35.34" font-weight="bold" fill="#000" stroke="#000" stroke-width="0.7">Stäbchen &amp; Zapfen</text>
<text x="84.0" y="188.6" font-size="25.56" font-weight="bold" fill="#0c0c1c" stroke="#0c0c1c" stroke-width="0.45">Stäbchen</text>
<text x="67.5" y="227.5" font-size="25.4" font-style="italic" fill="#1a1a2a">Skotopisches Sehen</text>
<text x="67.0" y="262.2" font-size="26.56" font-style="italic" fill="#1a1a2a">(Helligkeit)</text>
<text x="455.0" y="181" font-size="17.35" fill="#383838">Innensegment</text>
<text x="671.3" y="181" font-size="17.26" fill="#383838">Außensegment</text>
<text x="298.3" y="371.5" font-size="18.1" fill="#2c2c2c">Synaptische Endung</text>
<text x="514.5" y="374" font-size="18.0" fill="#2c2c2c">Zellkern</text>
<text x="744.6" y="375.3" font-size="17.28" fill="#2c2c2c">Disk</text>
<text x="81.0" y="528.3" font-size="26.83" font-weight="bold" fill="#0c140c" stroke="#0c140c" stroke-width="0.45">Zapfen</text>
<text x="65.0" y="574" font-size="25.72" font-style="italic" fill="#1a1f1a">Photopisches Sehen</text>
<text x="64.4" y="609" font-size="25.45" font-style="italic" fill="#1a1f1a">(Farben)</text>
<text x="475.4" y="572" font-size="17.29" fill="#383838">Innensegment</text>
<text x="657.0" y="572" font-size="17.33" fill="#383838">Außensegment</text>
<text x="48.3" y="754" font-size="25.2" fill="#1a2a30">S-Zapfen</text>
<text x="246.0" y="735" font-size="25.93" fill="#1a2a10">M-Zapfen</text>
<text x="431.0" y="699" font-size="25.42" fill="#2a1414">L-Zapfen</text>
<text x="412.0" y="841.4" font-size="26.39" font-weight="bold" fill="#000" stroke="#000" stroke-width="0.45">Aufbau der Retina</text>
<text x="252.0" y="902.9" font-size="17.19" fill="#3a2a2a">Ganglienzellen</text>
<text x="251.6" y="925.7" font-size="16.97" fill="#383838">(Axone)</text>
<text x="377.0" y="931.8" font-size="17.28" fill="#2a3040">Amakrinzellen</text>
<text x="504.3" y="915" font-size="17.21" fill="#3a3020">Bipolarzellen</text>
<text x="626.9" y="938" font-size="17.2" fill="#203a20">Horizontalzellen</text>
<text x="867.8" y="1037.8" font-size="25.35" fill="#262626">Stäbchen</text>
<text x="856.8" y="1081.2" font-size="25.14" fill="#262626">L-Zapfen</text>
<text x="861.0" y="1144.8" font-size="26.0" fill="#262626">M-Zapfen</text>
<text x="859.0" y="1234.6" font-size="24.93" fill="#262626">S-Zapfen</text>
<text x="213.0" y="1358.5" font-size="18.29" fill="#2c2c2c">Nervus opticus</text>
</svg></body></html>
